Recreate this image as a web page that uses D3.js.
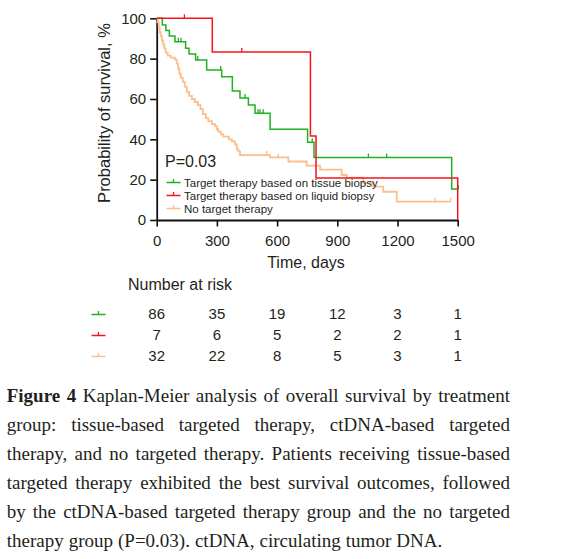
<!DOCTYPE html>
<html>
<head>
<meta charset="utf-8">
<script src="https://cdn.jsdelivr.net/npm/d3@7"></script>
<style>
  body { margin: 0; background: #fff; }
  svg text { font-family: "Liberation Sans", Arial, sans-serif; fill: #231f20; }
</style>
</head>
<body>
<div id="chart"></div>
<script>

// ---- data ----
var groupNames = ["Target therapy based on tissue biopsy", "Target therapy based on liquid biopsy", "No target therapy"];
var groupColors = ["#1fb11f", "#f5141c", "#fbbe8c"];

// step curves: time (days) and survival (%) after each step
var tissueTime = [0, 28, 46, 63, 91, 144, 161, 194, 249, 324, 377, 415, 457, 490, 565, 752, 784, 1470, 1503];
var tissueSurv = [100, 96.7, 93.9, 91.2, 88.4, 85.1, 82.3, 79.3, 74.4, 71, 64, 60.5, 57, 52.9, 45, 38.5, 31, 15.4, 15.4];
var tissueCensor = [108, 121, 205, 319, 440, 505, 515, 531, 775, 1055, 1146, 1503];

var liquidTime = [0, 277, 766, 794, 1500];
var liquidSurv = [100, 83.3, 41.7, 20.8, 0];
var liquidCensor = [138, 424];

var noneTime = [0, 5, 10, 15, 20, 26, 32, 38, 45, 55, 70, 90, 100, 107, 113, 120, 130, 140, 150, 162, 175, 190, 205, 218, 230, 245, 257, 275, 291, 300, 307, 320, 332, 360, 375, 390, 399, 407, 415, 565, 656, 747, 814, 922, 947, 1029, 1080, 1129, 1196, 1465];
var noneSurv = [100, 98, 95.5, 93, 91, 89, 87, 85, 83, 81.5, 80.5, 79.5, 77.5, 75, 72.5, 70.5, 68.5, 66, 63.5, 61.5, 60, 58.5, 57, 55, 52.5, 50.5, 49, 47.5, 46.5, 45, 43.8, 42.5, 41.3, 40, 39, 37.5, 35, 34, 32.2, 31, 29, 27, 25, 22.3, 21, 18.2, 16.5, 14, 9.1, 9.1];
var noneCensor = [548, 606, 1387, 1465];

var xTicks = [0, 300, 600, 900, 1200, 1500];
var yTicks = [0, 20, 40, 60, 80, 100];

var riskTissue = [86, 35, 19, 12, 3, 1];
var riskLiquid = [7, 6, 5, 2, 2, 1];
var riskNone = [32, 22, 8, 5, 3, 1];

var captionLines = [
  "Figure 4 Kaplan-Meier analysis of overall survival by treatment",
  "group: tissue-based targeted therapy, ctDNA-based targeted",
  "therapy, and no targeted therapy. Patients receiving tissue-based",
  "targeted therapy exhibited the best survival outcomes, followed",
  "by the ctDNA-based targeted therapy group and the no targeted",
  "therapy group (P=0.03). ctDNA, circulating tumor DNA."
];

// ---- drawing ----
var W = 571, H = 559;
var svg = d3.select('#chart').append('svg')
  .attr('width', W).attr('height', H);

var x = d3.scaleLinear().domain([0, 1500]).range([156.7, 457.7]);
var y = d3.scaleLinear().domain([0, 100]).range([220, 18.3]);

function survAt(times, surv, t) {
  var s = surv[0];
  for (var i = 0; i < times.length; i++) if (times[i] <= t) s = surv[i];
  return s;
}

var series = [
  {time: tissueTime, surv: tissueSurv, censor: tissueCensor, color: groupColors[0], w: 1.5},
  {time: liquidTime, surv: liquidSurv, censor: liquidCensor, color: groupColors[1], w: 1.5},
  {time: noneTime, surv: noneSurv, censor: noneCensor, color: groupColors[2], w: 1.8}
];

// axes
var xAxis = svg.append('g').attr('transform', 'translate(0,220)')
  .call(d3.axisBottom(x).tickValues(xTicks).tickFormat(d3.format('d'))
    .tickSize(6.5).tickPadding(9).tickSizeOuter(0));
var yAxis = svg.append('g').attr('transform', 'translate(156.7,0)')
  .call(d3.axisLeft(y).tickValues(yTicks).tickSize(6.5).tickPadding(4).tickSizeOuter(0));
[xAxis, yAxis].forEach(function(a) {
  a.select('.domain').attr('stroke', '#111').attr('stroke-width', 1.8);
  a.selectAll('.tick line').attr('stroke', '#111').attr('stroke-width', 1.6);
  a.selectAll('.tick text').style('font-size', '15px').attr('fill', '#231f20');
});

svg.append('text').attr('x', 306).attr('y', 268).attr('text-anchor', 'middle')
  .style('font-size', '16px').text('Time, days');
svg.append('text').attr('transform', 'translate(110,113) rotate(-90)')
  .attr('text-anchor', 'middle').style('font-size', '16.5px').text('Probability of survival, %');

// curves (orange first so red/green are on top)
var line = d3.line().curve(d3.curveStepAfter)
  .x(function(d) { return x(d[0]); })
  .y(function(d) { return y(d[1]); });

[2, 0, 1].forEach(function(i) {
  var s = series[i];
  var pts = s.time.map(function(t, k) { return [t, s.surv[k]]; });
  svg.append('path').attr('d', line(pts))
    .attr('fill', 'none').attr('stroke', s.color).attr('stroke-width', s.w);
  svg.selectAll(null).data(s.censor).enter().append('line')
    .attr('x1', function(t) { return x(t); }).attr('x2', function(t) { return x(t); })
    .attr('y1', function(t) { return y(survAt(s.time, s.surv, t)); })
    .attr('y2', function(t) { return y(survAt(s.time, s.surv, t)) - 4; })
    .attr('stroke', s.color).attr('stroke-width', 1.3);
});

// p value and legend
svg.append('text').attr('x', 165).attr('y', 167).style('font-size', '16px').text('P=0.03');

function symbol(g, cx, cy, color) {
  g.append('line').attr('x1', cx - 7).attr('x2', cx + 7).attr('y1', cy).attr('y2', cy)
    .attr('stroke', color).attr('stroke-width', 1.5);
  g.append('line').attr('x1', cx).attr('x2', cx).attr('y1', cy).attr('y2', cy - 3.5)
    .attr('stroke', color).attr('stroke-width', 1.3);
}

var legendY = [186.5, 199.5, 212.5];
groupNames.forEach(function(name, i) {
  symbol(svg, 173.5, legendY[i] - 4, groupColors[i]);
  svg.append('text').attr('x', 184).attr('y', legendY[i])
    .style('font-size', '11.5px').text(name);
});

// number at risk
svg.append('text').attr('x', 128).attr('y', 290).style('font-size', '16px').text('Number at risk');
var riskRows = [riskTissue, riskLiquid, riskNone];
var rowY = [319, 340, 361];
riskRows.forEach(function(row, i) {
  symbol(svg, 98.5, rowY[i] - 4.5, groupColors[i]);
  svg.selectAll(null).data(row).enter().append('text')
    .attr('x', function(d, k) { return x(xTicks[k]); })
    .attr('y', rowY[i]).attr('text-anchor', 'middle')
    .style('font-size', '15px').text(function(d) { return d; });
});

// caption, justified by hand
var capLeft = 6.7, capRight = 510, capY0 = 401.5, capStep = 29.1;
captionLines.forEach(function(txt, li) {
  var words = txt.split(' ');
  var nodes = words.map(function(w, k) {
    var bold = li === 0 && k < 2;
    return svg.append('text').attr('y', capY0 + li * capStep)
      .style('font-family', '"Liberation Serif", "Times New Roman", serif')
      .style('font-size', '19px').style('font-weight', bold ? 'bold' : 'normal')
      .style('fill', '#231f20').text(w);
  });
  var widths = nodes.map(function(n) { return n.node().getComputedTextLength(); });
  var total = d3.sum(widths);
  var gap = li < captionLines.length - 1 ? (capRight - capLeft - total) / (words.length - 1) : 5;
  var cx = capLeft;
  nodes.forEach(function(n, k) {
    n.attr('x', cx);
    cx += widths[k] + gap;
  });
});

</script>
</body>
</html>
